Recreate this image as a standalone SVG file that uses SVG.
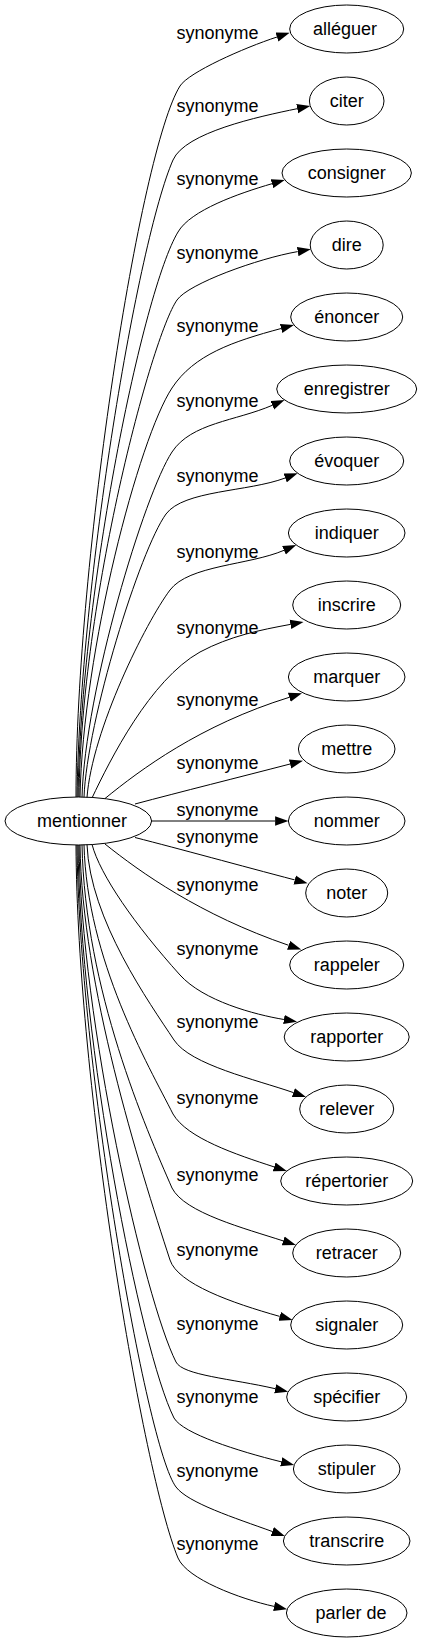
<svg xmlns="http://www.w3.org/2000/svg" width="422" height="1643" viewBox="0 0 422 1643">
<defs>
<marker id="ah" markerUnits="userSpaceOnUse" markerWidth="14" markerHeight="10" refX="0" refY="4.67" orient="auto" viewBox="0 0 14 9.34"><polygon points="0,0 13.3,4.67 0,9.34" fill="#000"/></marker>
<style>
.n ellipse{fill:none;stroke:#000;stroke-width:1}
.n text{font-family:"Liberation Sans",Arial,sans-serif;font-size:18px;fill:#000;text-anchor:middle}
.e path{fill:none;stroke:#000;stroke-width:1;marker-end:url(#ah)}
.lbl text{font-family:"Liberation Sans",Arial,sans-serif;font-size:18px;fill:#000}
</style>
</defs>
<rect width="422" height="1643" fill="#fff"/>
<g class="e" id="edges">
<path d="M76,797 C76,560 140,150 180,86 C188.5,72.4 243.7,47.9 277,37"/>
<path d="M77,797 C80,580 138,240 173,160 C185,132.5 258,116.7 297.2,108.7"/>
<path d="M78,797 C81,590 143,290 178,232 C190.5,210.3 238.4,193.5 272,183.7"/>
<path d="M79,797 C81,600 151.4,336.9 177,300 C188.4,283.6 258.3,258.4 297.7,251.6"/>
<path d="M80,797 C83,650 139,438 172,388 C194,354.6 232.9,341.5 281.1,328.5"/>
<path d="M82,797.2 C85,690 144.5,493.8 172,452 C191.3,422.8 235.5,421.1 272.3,405.3"/>
<path d="M84,797.3 C87,720 140,550 166,514 C184,490 247.8,492 285.2,478"/>
<path d="M87,797.5 C92,730 146,622 170,590 C189,565 249.1,565.3 284,550.3"/>
<path d="M92,798 C110,760 150,680 200,652 C230,636 260,630 290.4,624.4"/>
<path d="M105,798.5 C140,770 200,725 289.3,697.3"/>
<path d="M135,804 C180,792 240,777 290.1,764"/>
<path d="M151.6,821 L275.1,821"/>
<path d="M135,837.5 C180,849 240,865.5 294.7,879.9"/>
<path d="M105,844 C140,872 200,915 288.6,945.3"/>
<path d="M92,844.3 C100,875 135,925 180,975 C203.5,1001 254.3,1014.5 283.9,1019.5"/>
<path d="M87,844.5 C90,920 149.8,1003.3 174,1040 C190.5,1065 255.6,1079.4 293.4,1092.6"/>
<path d="M84,844.7 C87,960 148.2,1065 173,1114 C187,1138.2 236.1,1154.5 274.1,1166.9"/>
<path d="M82,844.8 C85,990 146,1128.4 172,1188 C184.6,1212.9 245.2,1228.5 283.2,1240.9"/>
<path d="M80,845 C82,985 139,1165 170,1260 C177.8,1283.8 232,1303 279.7,1316.4"/>
<path d="M79,845 C81,1020 144.5,1299.7 176,1362 C182.8,1375.4 231.4,1378.6 275.2,1388.7"/>
<path d="M78,845 C80,1040 140,1350 174,1418 C183,1433.6 237.5,1451 281.2,1461.8"/>
<path d="M77,845 C79,1060 146,1447 176,1487 C188,1503 234.7,1517.9 272.3,1531.5"/>
<path d="M76,845 C77,1083 143,1474 178,1558 C187,1579 239.9,1598.9 274.1,1606.4"/>
</g>
<g class="lbl" id="labels">
<text x="176.5" y="39.3">synonyme</text>
<text x="176.5" y="111.7">synonyme</text>
<text x="176.5" y="185">synonyme</text>
<text x="176.5" y="259.3">synonyme</text>
<text x="176.5" y="331.7">synonyme</text>
<text x="176.5" y="406.7">synonyme</text>
<text x="176.5" y="482.3">synonyme</text>
<text x="176.5" y="558.3">synonyme</text>
<text x="176.5" y="634">synonyme</text>
<text x="176.5" y="706">synonyme</text>
<text x="176.5" y="769.3">synonyme</text>
<text x="176.5" y="816">synonyme</text>
<text x="176.5" y="843.3">synonyme</text>
<text x="176.5" y="890.7">synonyme</text>
<text x="176.5" y="955">synonyme</text>
<text x="176.5" y="1027.7">synonyme</text>
<text x="176.5" y="1104">synonyme</text>
<text x="176.5" y="1181">synonyme</text>
<text x="176.5" y="1256">synonyme</text>
<text x="176.5" y="1330">synonyme</text>
<text x="176.5" y="1403.3">synonyme</text>
<text x="176.5" y="1476.7">synonyme</text>
<text x="176.5" y="1550">synonyme</text>
</g>
<g class="n" id="mentionner"><ellipse cx="78.3" cy="821" rx="73.3" ry="24"/><text x="82" y="827">mentionner</text></g>
<g class="n" id="alleguer"><ellipse cx="346.7" cy="29" rx="57" ry="24"/><text x="345" y="35">alléguer</text></g>
<g class="n" id="citer"><ellipse cx="346.7" cy="101" rx="37.3" ry="24"/><text x="346.7" y="107">citer</text></g>
<g class="n" id="consigner"><ellipse cx="346.7" cy="173" rx="64.7" ry="24"/><text x="346.7" y="179">consigner</text></g>
<g class="n" id="dire"><ellipse cx="346.7" cy="245" rx="36.5" ry="24"/><text x="346.7" y="251">dire</text></g>
<g class="n" id="enoncer"><ellipse cx="346.7" cy="317" rx="56" ry="24"/><text x="346.7" y="323">énoncer</text></g>
<g class="n" id="enregistrer"><ellipse cx="346.7" cy="389" rx="70" ry="24"/><text x="346.7" y="395">enregistrer</text></g>
<g class="n" id="evoquer"><ellipse cx="346.7" cy="461" rx="57" ry="24"/><text x="346.7" y="467">évoquer</text></g>
<g class="n" id="indiquer"><ellipse cx="346.7" cy="533" rx="58.3" ry="24"/><text x="346.7" y="539">indiquer</text></g>
<g class="n" id="inscrire"><ellipse cx="346.7" cy="605" rx="54" ry="24"/><text x="346.7" y="611">inscrire</text></g>
<g class="n" id="marquer"><ellipse cx="346.7" cy="677" rx="58.3" ry="24"/><text x="346.7" y="683">marquer</text></g>
<g class="n" id="mettre"><ellipse cx="346.7" cy="749" rx="48.3" ry="24"/><text x="346.7" y="755">mettre</text></g>
<g class="n" id="nommer"><ellipse cx="346.7" cy="821" rx="58.3" ry="24"/><text x="346.7" y="827">nommer</text></g>
<g class="n" id="noter"><ellipse cx="346.7" cy="893" rx="41" ry="24"/><text x="346.7" y="899">noter</text></g>
<g class="n" id="rappeler"><ellipse cx="346.7" cy="965" rx="57" ry="24"/><text x="346.7" y="971">rappeler</text></g>
<g class="n" id="rapporter"><ellipse cx="346.7" cy="1037" rx="62.5" ry="24"/><text x="346.7" y="1043">rapporter</text></g>
<g class="n" id="relever"><ellipse cx="346.7" cy="1109" rx="47" ry="24"/><text x="346.7" y="1115">relever</text></g>
<g class="n" id="repertorier"><ellipse cx="346.7" cy="1181" rx="66" ry="24"/><text x="346.7" y="1187">répertorier</text></g>
<g class="n" id="retracer"><ellipse cx="346.7" cy="1253" rx="54" ry="24"/><text x="346.7" y="1259">retracer</text></g>
<g class="n" id="signaler"><ellipse cx="346.7" cy="1325" rx="56" ry="24"/><text x="346.7" y="1331">signaler</text></g>
<g class="n" id="specifier"><ellipse cx="346.7" cy="1397" rx="60" ry="24"/><text x="346.7" y="1403">spécifier</text></g>
<g class="n" id="stipuler"><ellipse cx="346.7" cy="1469" rx="53.3" ry="24"/><text x="346.7" y="1475">stipuler</text></g>
<g class="n" id="transcrire"><ellipse cx="346.7" cy="1541" rx="63.3" ry="24"/><text x="346.7" y="1547">transcrire</text></g>
<g class="n" id="parlerde"><ellipse cx="346.7" cy="1613" rx="60.3" ry="24"/><text x="351" y="1619">parler de</text></g>
</svg>
